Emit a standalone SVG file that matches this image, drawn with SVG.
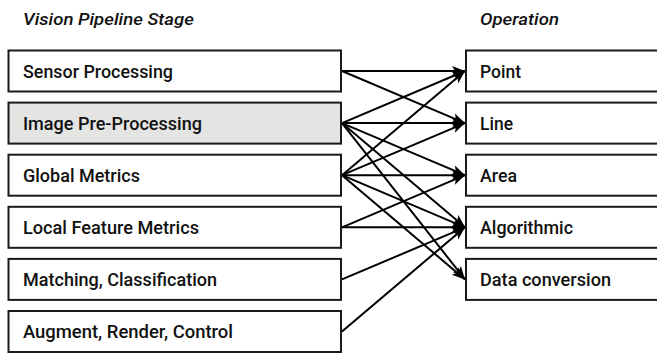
<svg xmlns="http://www.w3.org/2000/svg" width="657" height="354" viewBox="0 0 657 354">
<style>
.box{fill:#fff;stroke:#1a1a1a;stroke-width:2}
.hl{fill:#e4e4e3}
.lbl{font-family:Roboto,"Liberation Sans",sans-serif;font-weight:500;font-size:19px;fill:#111}
.hdr{font-family:Roboto,"Liberation Sans",sans-serif;font-weight:500;font-style:italic;font-size:17px;fill:#111}
.con{stroke:#000;stroke-width:2;fill:none;marker-end:url(#ah)}
</style>
<defs>
<marker id="ah" markerUnits="userSpaceOnUse" markerWidth="16" markerHeight="12" refX="14" refY="6" orient="auto">
<path d="M1,1 L14,6 L1,11 L4,6 z" fill="#000"/>
</marker>
</defs>
<text class="hdr" x="23" y="25" textLength="171" lengthAdjust="spacingAndGlyphs">Vision Pipeline Stage</text>
<text class="hdr" x="480" y="25" textLength="79" lengthAdjust="spacingAndGlyphs">Operation</text>
<g id="connectors">
<line class="con" x1="342" y1="71" x2="465" y2="71"/>
<line class="con" x1="342" y1="71" x2="465" y2="123.1"/>
<line class="con" x1="342" y1="123.1" x2="465" y2="71"/>
<line class="con" x1="342" y1="123.1" x2="465" y2="123.1"/>
<line class="con" x1="342" y1="123.1" x2="465" y2="175.2"/>
<line class="con" x1="342" y1="123.1" x2="465" y2="227.3"/>
<line class="con" x1="342" y1="123.1" x2="465" y2="279.4"/>
<line class="con" x1="342" y1="175.2" x2="465" y2="71"/>
<line class="con" x1="342" y1="175.2" x2="465" y2="123.1"/>
<line class="con" x1="342" y1="175.2" x2="465" y2="175.2"/>
<line class="con" x1="342" y1="175.2" x2="465" y2="227.3"/>
<line class="con" x1="342" y1="175.2" x2="465" y2="279.4"/>
<line class="con" x1="342" y1="227.3" x2="465" y2="175.2"/>
<line class="con" x1="342" y1="227.3" x2="465" y2="227.3"/>
<line class="con" x1="342" y1="279.4" x2="465" y2="227.3"/>
<line class="con" x1="342" y1="331.5" x2="465" y2="227.3"/>
</g>
<g id="stage-sensor"><rect class="box" x="8.5" y="50.5" width="332.5" height="41"/><text class="lbl" x="23" y="77.7" textLength="150" lengthAdjust="spacingAndGlyphs">Sensor Processing</text></g>
<g id="stage-image"><rect class="box hl" x="8.5" y="102.6" width="332.5" height="41"/><text class="lbl" x="23" y="129.8" textLength="179" lengthAdjust="spacingAndGlyphs">Image Pre-Processing</text></g>
<g id="stage-global"><rect class="box" x="8.5" y="154.7" width="332.5" height="41"/><text class="lbl" x="23" y="181.9" textLength="117" lengthAdjust="spacingAndGlyphs">Global Metrics</text></g>
<g id="stage-local"><rect class="box" x="8.5" y="206.8" width="332.5" height="41"/><text class="lbl" x="23" y="234" textLength="176" lengthAdjust="spacingAndGlyphs">Local Feature Metrics</text></g>
<g id="stage-matching"><rect class="box" x="8.5" y="258.9" width="332.5" height="41"/><text class="lbl" x="23" y="286.1" textLength="194" lengthAdjust="spacingAndGlyphs">Matching, Classification</text></g>
<g id="stage-augment"><rect class="box" x="8.5" y="311" width="332.5" height="41"/><text class="lbl" x="23" y="338.2" textLength="210" lengthAdjust="spacingAndGlyphs">Augment, Render, Control</text></g>
<g id="op-point"><rect class="box" x="466" y="50.5" width="220" height="41"/><text class="lbl" x="480" y="77.7" textLength="41" lengthAdjust="spacingAndGlyphs">Point</text></g>
<g id="op-line"><rect class="box" x="466" y="102.6" width="220" height="41"/><text class="lbl" x="480" y="129.8" textLength="33" lengthAdjust="spacingAndGlyphs">Line</text></g>
<g id="op-area"><rect class="box" x="466" y="154.7" width="220" height="41"/><text class="lbl" x="480" y="181.9" textLength="37" lengthAdjust="spacingAndGlyphs">Area</text></g>
<g id="op-algorithmic"><rect class="box" x="466" y="206.8" width="220" height="41"/><text class="lbl" x="480" y="234" textLength="93" lengthAdjust="spacingAndGlyphs">Algorithmic</text></g>
<g id="op-data"><rect class="box" x="466" y="258.9" width="220" height="41"/><text class="lbl" x="480" y="286.1" textLength="131" lengthAdjust="spacingAndGlyphs">Data conversion</text></g>
</svg>
